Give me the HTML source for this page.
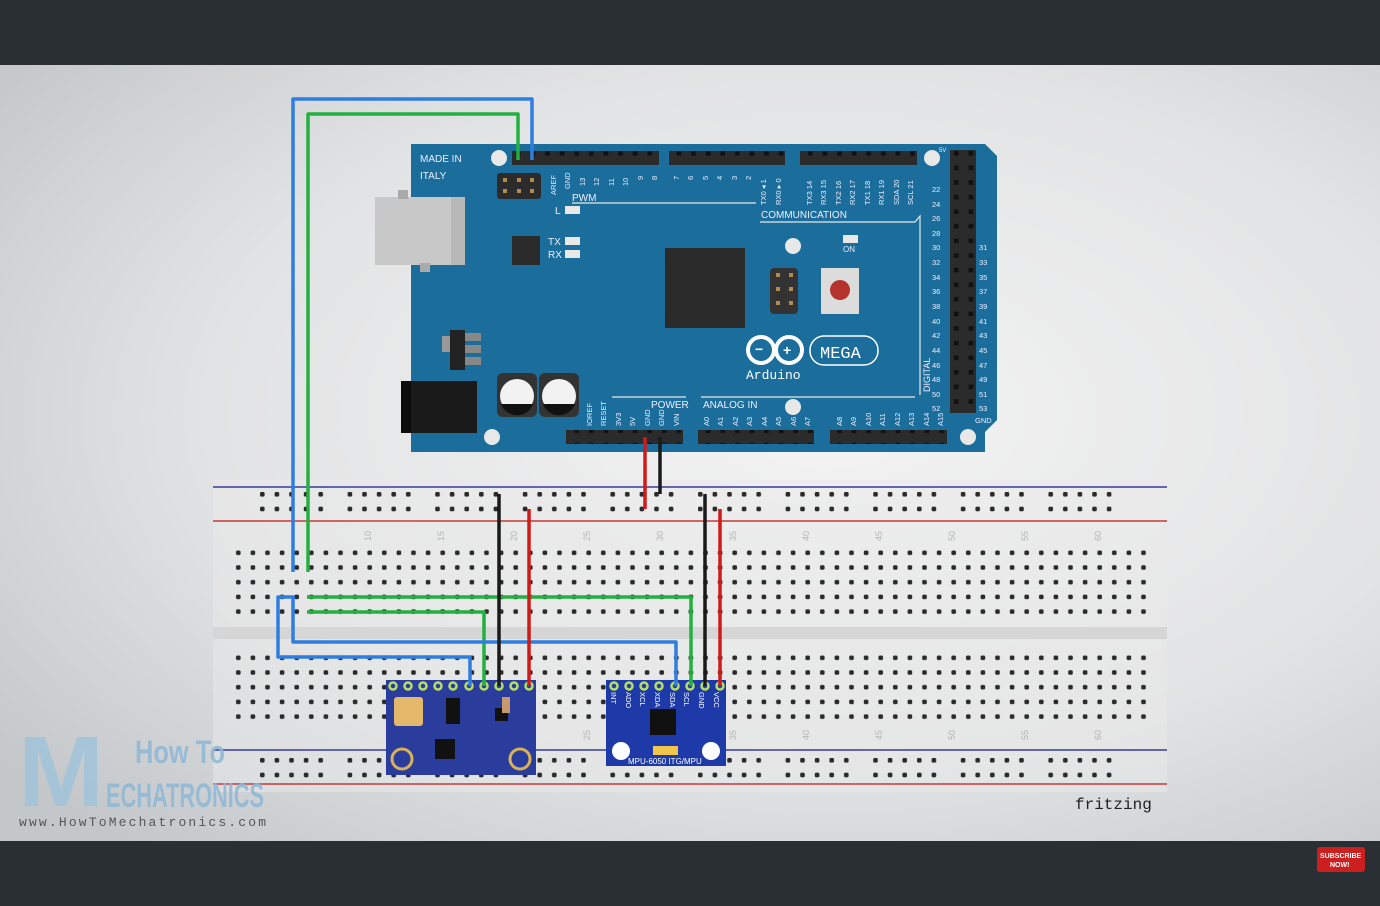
<!DOCTYPE html>
<html><head><meta charset="utf-8"><style>
html,body{margin:0;padding:0;width:1380px;height:906px;overflow:hidden;background:#2a2f33}
svg{display:block}
</style></head><body>
<svg width="1380" height="906" viewBox="0 0 1380 906" xmlns="http://www.w3.org/2000/svg" font-family="Liberation Sans,sans-serif">
<defs>
<radialGradient id="bg" cx="0.6" cy="0.45" r="0.75">
<stop offset="0" stop-color="#f4f4f4"/><stop offset="0.6" stop-color="#e2e3e4"/><stop offset="1" stop-color="#c4c7ca"/>
</radialGradient>
<pattern id="hm" x="233.7" y="546" width="14.6" height="14.7" patternUnits="userSpaceOnUse">
<rect x="2.3" y="4.5" width="4.6" height="4.6" rx="1.5" fill="#2a2a2a"/></pattern>
<pattern id="hm2" x="233.7" y="651" width="14.6" height="14.7" patternUnits="userSpaceOnUse">
<rect x="2.3" y="4.5" width="4.6" height="4.6" rx="1.5" fill="#2a2a2a"/></pattern>
<pattern id="hr" x="258" y="490" width="87.6" height="14.7" patternUnits="userSpaceOnUse">
<g fill="#2a2a2a"><rect x="2" y="2" width="4.6" height="4.6" rx="1.5"/><rect x="16.6" y="2" width="4.6" height="4.6" rx="1.5"/><rect x="31.2" y="2" width="4.6" height="4.6" rx="1.5"/><rect x="45.8" y="2" width="4.6" height="4.6" rx="1.5"/><rect x="60.4" y="2" width="4.6" height="4.6" rx="1.5"/></g></pattern>
<pattern id="hr2" x="258" y="756" width="87.6" height="14.7" patternUnits="userSpaceOnUse">
<g fill="#2a2a2a"><rect x="2" y="2" width="4.6" height="4.6" rx="1.5"/><rect x="16.6" y="2" width="4.6" height="4.6" rx="1.5"/><rect x="31.2" y="2" width="4.6" height="4.6" rx="1.5"/><rect x="45.8" y="2" width="4.6" height="4.6" rx="1.5"/><rect x="60.4" y="2" width="4.6" height="4.6" rx="1.5"/></g></pattern>
<pattern id="hdr" x="0" y="0" width="14.6" height="14.6" patternUnits="userSpaceOnUse">
<rect width="14.6" height="14.6" fill="#2b2b2b"/><rect x="5" y="5" width="4.6" height="4.6" fill="#111"/></pattern>
</defs>
<rect x="0" y="0" width="1380" height="65" fill="#2a2f33"/>
<rect x="0" y="65" width="1380" height="776" fill="url(#bg)"/>
<rect x="0" y="841" width="1380" height="65" fill="#2a2f33"/>

<!-- breadboard -->
<rect x="213" y="480" width="954" height="312" fill="#e9e9e9" opacity="0.5"/>
<rect x="213" y="627" width="954" height="12" fill="#d6d6d6"/>
<line x1="213" y1="487" x2="1167" y2="487" stroke="#3a3a9a" stroke-width="1.5"/>
<line x1="213" y1="521" x2="1167" y2="521" stroke="#c43a3a" stroke-width="1.5"/>
<line x1="213" y1="750" x2="1167" y2="750" stroke="#3a3a9a" stroke-width="1.5"/>
<line x1="213" y1="784" x2="1167" y2="784" stroke="#c43a3a" stroke-width="1.5"/>
<rect x="258" y="490" width="876" height="29" fill="url(#hr)"/>
<rect x="258" y="756" width="876" height="29" fill="url(#hr2)"/>
<rect x="233.7" y="546" width="920" height="73.5" fill="url(#hm)"/>
<rect x="233.7" y="651" width="920" height="73.5" fill="url(#hm2)"/>
<g font-size="9" fill="#b5b5b5">
<text transform="translate(371,541) rotate(-90)">10</text><text transform="translate(444,541) rotate(-90)">15</text><text transform="translate(517,541) rotate(-90)">20</text><text transform="translate(590,541) rotate(-90)">25</text><text transform="translate(663,541) rotate(-90)">30</text><text transform="translate(736,541) rotate(-90)">35</text><text transform="translate(809,541) rotate(-90)">40</text><text transform="translate(882,541) rotate(-90)">45</text><text transform="translate(955,541) rotate(-90)">50</text><text transform="translate(1028,541) rotate(-90)">55</text><text transform="translate(1101,541) rotate(-90)">60</text>
<text transform="translate(590,740) rotate(-90)">25</text><text transform="translate(736,740) rotate(-90)">35</text><text transform="translate(809,740) rotate(-90)">40</text><text transform="translate(882,740) rotate(-90)">45</text><text transform="translate(955,740) rotate(-90)">50</text><text transform="translate(1028,740) rotate(-90)">55</text><text transform="translate(1101,740) rotate(-90)">60</text>
</g>

<!-- Arduino board -->
<path d="M411,144 H985 L997,156 V175 L997,420 L985,432 V452 H411 Z" fill="#1b6e9b"/>
<rect x="375" y="197" width="90" height="68" fill="#b9b9b9"/><rect x="375" y="197" width="76" height="68" fill="#c8c8c8"/>
<rect x="398" y="190" width="10" height="9" fill="#aaa"/><rect x="420" y="263" width="10" height="9" fill="#aaa"/>
<rect x="401" y="381" width="76" height="52" fill="#1a1a1a"/><rect x="401" y="381" width="10" height="52" fill="#0d0d0d"/>
<rect x="442" y="336" width="18" height="16" fill="#999"/><rect x="450" y="330" width="15" height="40" fill="#222"/>
<rect x="465" y="333" width="16" height="8" fill="#888"/><rect x="465" y="345" width="16" height="8" fill="#888"/><rect x="465" y="357" width="16" height="8" fill="#888"/>
<rect x="497" y="373" width="40" height="44" rx="6" fill="#333"/><circle cx="517" cy="396" r="17" fill="#f2f2f2"/><path d="M501,404 A17,17 0 0 0 533,404 Z" fill="#111"/>
<rect x="539" y="373" width="40" height="44" rx="6" fill="#333"/><circle cx="559" cy="396" r="17" fill="#f2f2f2"/><path d="M543,404 A17,17 0 0 0 575,404 Z" fill="#111"/>
<circle cx="499" cy="158" r="8" fill="#e8e8e8"/><circle cx="932" cy="158" r="8" fill="#e8e8e8"/><circle cx="492" cy="437" r="8" fill="#e8e8e8"/><circle cx="968" cy="437" r="8" fill="#e8e8e8"/><circle cx="793" cy="246" r="8" fill="#e8e8e8"/><circle cx="793" cy="407" r="8" fill="#e8e8e8"/>
<rect x="497" y="173" width="44" height="26" rx="3" fill="#2b2b2b"/>
<g fill="#b08a50"><rect x="503" y="178" width="4" height="4"/><rect x="517" y="178" width="4" height="4"/><rect x="530" y="178" width="4" height="4"/><rect x="503" y="189" width="4" height="4"/><rect x="517" y="189" width="4" height="4"/><rect x="530" y="189" width="4" height="4"/></g>
<rect x="512" y="236" width="28" height="29" fill="#2b2b2b"/>
<rect x="665" y="248" width="80" height="80" fill="#2b2b2b"/>
<rect x="770" y="268" width="28" height="46" rx="4" fill="#333"/>
<g fill="#b08a50"><rect x="776" y="273" width="4" height="4"/><rect x="789" y="273" width="4" height="4"/><rect x="776" y="287" width="4" height="4"/><rect x="789" y="287" width="4" height="4"/><rect x="776" y="301" width="4" height="4"/><rect x="789" y="301" width="4" height="4"/></g>
<rect x="821" y="268" width="38" height="46" fill="#dcdcdc"/><circle cx="840" cy="290" r="10" fill="#b4342c"/>
<rect x="565" y="206" width="15" height="8" fill="#e8e8e8"/><rect x="565" y="237" width="15" height="8" fill="#e8e8e8"/><rect x="565" y="250" width="15" height="8" fill="#e8e8e8"/><rect x="843" y="235" width="15" height="8" fill="#e8e8e8"/>
<rect x="512" y="151" width="147" height="14" fill="url(#hdr)"/>
<rect x="669" y="151" width="116" height="14" fill="url(#hdr)"/>
<rect x="800" y="151" width="117" height="14" fill="url(#hdr)"/>
<rect x="950" y="150" width="26" height="263" fill="url(#hdr)"/>
<rect x="566" y="430" width="117" height="14" fill="url(#hdr)"/>
<rect x="698" y="430" width="116" height="14" fill="url(#hdr)"/>
<rect x="830" y="430" width="117" height="14" fill="url(#hdr)"/>
<g stroke="#e8e8e8" stroke-width="1.2" fill="none">
<path d="M572,203 H756"/><path d="M760,222 H915 L920,216 V395"/><path d="M612,397 H686"/><path d="M701,397 H915"/>
</g>
<g fill="#eef" font-size="10">
<text x="420" y="162">MADE IN</text><text x="420" y="179">ITALY</text>
<text x="572" y="201">PWM</text><text x="555" y="214">L</text><text x="548" y="245">TX</text><text x="548" y="258">RX</text>
<text x="761" y="218">COMMUNICATION</text><text x="843" y="252" font-size="8">ON</text>
<text x="651" y="408">POWER</text><text x="703" y="408">ANALOG IN</text>
</g>
<g fill="#eef" font-size="7.5">
<text transform="translate(556,195) rotate(-90)">AREF</text><text transform="translate(570,189) rotate(-90)">GND</text>
<text transform="translate(585,186) rotate(-90)">13</text><text transform="translate(599,186) rotate(-90)">12</text><text transform="translate(614,186) rotate(-90)">11</text><text transform="translate(628,186) rotate(-90)">10</text><text transform="translate(643,180) rotate(-90)">9</text><text transform="translate(657,180) rotate(-90)">8</text>
<text transform="translate(679,180) rotate(-90)">7</text><text transform="translate(693,180) rotate(-90)">6</text><text transform="translate(708,180) rotate(-90)">5</text><text transform="translate(722,180) rotate(-90)">4</text><text transform="translate(737,180) rotate(-90)">3</text><text transform="translate(751,180) rotate(-90)">2</text>
<text transform="translate(766,205) rotate(-90)">TX0 ◂ 1</text><text transform="translate(781,205) rotate(-90)">RX0 ▸ 0</text>
<text transform="translate(812,205) rotate(-90)">TX3 14</text><text transform="translate(826,205) rotate(-90)">RX3 15</text><text transform="translate(841,205) rotate(-90)">TX2 16</text><text transform="translate(855,205) rotate(-90)">RX2 17</text><text transform="translate(870,205) rotate(-90)">TX1 18</text><text transform="translate(884,205) rotate(-90)">RX1 19</text><text transform="translate(899,205) rotate(-90)">SDA 20</text><text transform="translate(913,205) rotate(-90)">SCL 21</text>
<text transform="translate(592,426) rotate(-90)">IOREF</text><text transform="translate(606,426) rotate(-90)">RESET</text><text transform="translate(621,426) rotate(-90)">3V3</text><text transform="translate(635,426) rotate(-90)">5V</text><text transform="translate(650,426) rotate(-90)">GND</text><text transform="translate(664,426) rotate(-90)">GND</text><text transform="translate(679,426) rotate(-90)">VIN</text>
<text transform="translate(709,426) rotate(-90)">A0</text><text transform="translate(723,426) rotate(-90)">A1</text><text transform="translate(738,426) rotate(-90)">A2</text><text transform="translate(752,426) rotate(-90)">A3</text><text transform="translate(767,426) rotate(-90)">A4</text><text transform="translate(781,426) rotate(-90)">A5</text><text transform="translate(796,426) rotate(-90)">A6</text><text transform="translate(810,426) rotate(-90)">A7</text>
<text transform="translate(842,426) rotate(-90)">A8</text><text transform="translate(856,426) rotate(-90)">A9</text><text transform="translate(871,426) rotate(-90)">A10</text><text transform="translate(885,426) rotate(-90)">A11</text><text transform="translate(900,426) rotate(-90)">A12</text><text transform="translate(914,426) rotate(-90)">A13</text><text transform="translate(929,426) rotate(-90)">A14</text><text transform="translate(943,426) rotate(-90)">A15</text>
<text transform="translate(930,392) rotate(-90)" font-size="9">DIGITAL</text>
<text x="939" y="152" font-size="6">5V</text><text x="975" y="423">GND</text>
<text x="932" y="192">22</text><text x="932" y="207">24</text><text x="932" y="221">26</text><text x="932" y="236">28</text><text x="932" y="250">30</text><text x="932" y="265">32</text><text x="932" y="280">34</text><text x="932" y="294">36</text><text x="932" y="309">38</text><text x="932" y="324">40</text><text x="932" y="338">42</text><text x="932" y="353">44</text><text x="932" y="368">46</text><text x="932" y="382">48</text><text x="932" y="397">50</text><text x="932" y="411">52</text>
<text x="979" y="250">31</text><text x="979" y="265">33</text><text x="979" y="280">35</text><text x="979" y="294">37</text><text x="979" y="309">39</text><text x="979" y="324">41</text><text x="979" y="338">43</text><text x="979" y="353">45</text><text x="979" y="368">47</text><text x="979" y="382">49</text><text x="979" y="397">51</text><text x="979" y="411">53</text>
</g>
<g stroke="#fff" stroke-width="4" fill="none"><circle cx="761" cy="350" r="13"/><circle cx="789" cy="350" r="13"/></g>
<text x="755" y="354" fill="#fff" font-size="14" font-weight="bold">−</text><text x="783" y="355" fill="#fff" font-size="14" font-weight="bold">+</text>
<rect x="810" y="336" width="68" height="29" rx="14" fill="none" stroke="#fff" stroke-width="1.5"/>
<text x="820" y="358" fill="#fff" font-size="17" font-family="Liberation Mono,monospace">MEGA</text>
<text x="746" y="379" fill="#fff" font-size="13" font-family="Liberation Mono,monospace">Arduino</text>

<!-- modules -->
<rect x="386" y="680" width="150" height="95" fill="#2a3d9c"/>
<rect x="394" y="697" width="29" height="29" rx="3" fill="#e3b86a"/>
<rect x="446" y="698" width="14" height="26" fill="#111"/><rect x="495" y="708" width="13" height="13" fill="#111"/><rect x="435" y="739" width="20" height="20" fill="#111"/><rect x="502" y="697" width="8" height="16" fill="#c79a6b"/>
<circle cx="402" cy="759" r="10" fill="#2a3d9c" stroke="#d9b15a" stroke-width="3"/><circle cx="520" cy="759" r="10" fill="#2a3d9c" stroke="#d9b15a" stroke-width="3"/>
<rect x="606" y="680" width="120" height="86" fill="#1d3aa8"/>
<rect x="650" y="709" width="26" height="26" fill="#111"/><rect x="653" y="746" width="25" height="9" fill="#f2c64a"/>
<circle cx="621" cy="751" r="9" fill="#fff"/><circle cx="711" cy="751" r="9" fill="#fff"/>
<text x="628" y="764" fill="#fff" font-size="8">MPU-6050 ITG/MPU</text>
<g fill="#fff" font-size="7.5"><text transform="translate(611,692) rotate(90)">INT</text><text transform="translate(626,692) rotate(90)">ADO</text><text transform="translate(640,692) rotate(90)">XCL</text><text transform="translate(655,692) rotate(90)">XDA</text><text transform="translate(670,692) rotate(90)">SDA</text><text transform="translate(684,692) rotate(90)">SCL</text><text transform="translate(699,692) rotate(90)">GND</text><text transform="translate(714,692) rotate(90)">VCC</text></g>
<g fill="#2a3d9c" stroke="#b8e060" stroke-width="2.5"><circle cx="393" cy="686" r="3.5"/><circle cx="408" cy="686" r="3.5"/><circle cx="423" cy="686" r="3.5"/><circle cx="438" cy="686" r="3.5"/><circle cx="453" cy="686" r="3.5"/><circle cx="469" cy="686" r="3.5"/><circle cx="484" cy="686" r="3.5"/><circle cx="499" cy="686" r="3.5"/><circle cx="514" cy="686" r="3.5"/><circle cx="529" cy="686" r="3.5"/>
<circle cx="614" cy="686" r="3.5"/><circle cx="629" cy="686" r="3.5"/><circle cx="644" cy="686" r="3.5"/><circle cx="659" cy="686" r="3.5"/><circle cx="675" cy="686" r="3.5"/><circle cx="690" cy="686" r="3.5"/><circle cx="705" cy="686" r="3.5"/><circle cx="720" cy="686" r="3.5"/></g>

<!-- wires -->
<g fill="none" stroke-width="3.5" stroke-linejoin="round">
<path d="M532,160 V99 H293 V572" stroke="#2f7de0"/>
<path d="M518,160 V114 H308 V572" stroke="#22b040"/>
<path d="M307,597 H691 V686" stroke="#22b040"/>
<path d="M307,612 H484 V686" stroke="#22b040"/>
<path d="M295,597 H278 V657 H470 V686" stroke="#2f7de0"/>
<path d="M293,597 V642 H676 V686" stroke="#2f7de0"/>
<path d="M499,494 V686" stroke="#1a1a1a"/><path d="M529,509 V686" stroke="#d01a1a"/>
<path d="M705,494 V686" stroke="#1a1a1a"/><path d="M720,509 V686" stroke="#d01a1a"/>
<path d="M645,437 V509" stroke="#d01a1a"/><path d="M660,437 V494" stroke="#1a1a1a"/>
</g>

<!-- logo -->
<text x="18" y="806" font-size="100" font-weight="bold" fill="#9cc3dc" opacity="0.75" textLength="86" lengthAdjust="spacingAndGlyphs">M</text>
<text x="135" y="763" font-size="32" font-weight="bold" fill="#8fb8d6" opacity="0.85" textLength="90" lengthAdjust="spacingAndGlyphs">How To</text>
<text x="106" y="807" font-size="34" font-weight="bold" fill="#8fb8d6" opacity="0.85" textLength="158" lengthAdjust="spacingAndGlyphs">ECHATRONICS</text>
<text x="19" y="826" font-size="13" fill="#555" font-family="Liberation Mono,monospace" textLength="247">www.HowToMechatronics.com</text>
<text x="1075" y="809" font-size="16" fill="#222" font-family="Liberation Mono,monospace">fritzing</text>
<rect x="1317" y="847" width="48" height="25" rx="3" fill="#cc2020"/>
<text x="1320" y="858" font-size="7" fill="#fff" font-weight="bold">SUBSCRIBE</text><text x="1330" y="867" font-size="7" fill="#fff" font-weight="bold">NOW!</text>
</svg>
</body></html>
